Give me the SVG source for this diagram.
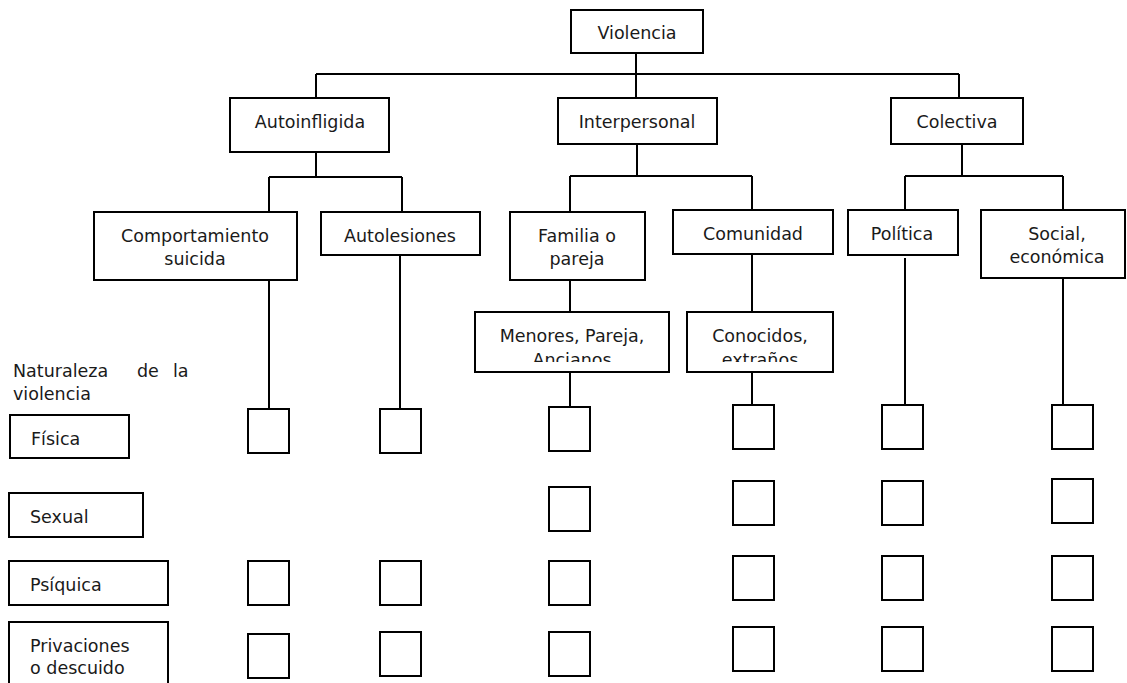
<svg xmlns="http://www.w3.org/2000/svg" width="1127" height="683" viewBox="0 0 1127 683">
<style>
.b{fill:#fff;stroke:#000;stroke-width:2}
.c{fill:none;stroke:#000;stroke-width:2}
text{font-family:"DejaVu Sans","Liberation Sans",sans-serif;font-size:17.5px;fill:#1a1a1a}
.m{text-anchor:middle}
</style>
<defs>
<clipPath id="clipMen"><rect x="475" y="312" width="194" height="50"/></clipPath>
<clipPath id="clipCon"><rect x="687" y="312" width="146" height="50"/></clipPath>
</defs>
<rect width="1127" height="683" fill="#fff"/>
<g id="connectors">
<path class="c" d="M636 53V98M316 74H959M316 74V98M959 74V98"/>
<path class="c" d="M316 152V177M269 177H402M269 177V212M402 177V212"/>
<path class="c" d="M637 144V176M570 176H752M570 176V212M752 176V210"/>
<path class="c" d="M962 144V176M905 176H1063M905 176V210M1063 176V210"/>
<path class="c" d="M269 280V409M400 255V409"/>
<path class="c" d="M570 280V312M570 372V407M752 254V312M752 372V405"/>
<path class="c" d="M905 258V405M1063 278V405"/>
</g>
<g id="n-violencia"><rect class="b" x="571" y="10" width="132" height="43"/><text class="m" x="637" y="39">Violencia</text></g>
<g id="n-autoinfligida"><rect class="b" x="230" y="98" width="159" height="54"/><text class="m" x="310" y="128">Autoinfligida</text></g>
<g id="n-interpersonal"><rect class="b" x="558" y="98" width="159" height="46"/><text class="m" x="637" y="128">Interpersonal</text></g>
<g id="n-colectiva"><rect class="b" x="891" y="98" width="132" height="46"/><text class="m" x="957" y="128">Colectiva</text></g>
<g id="n-comportamiento"><rect class="b" x="94" y="212" width="203" height="68"/><text class="m" x="195" y="242">Comportamiento</text><text class="m" x="195" y="265">suicida</text></g>
<g id="n-autolesiones"><rect class="b" x="321" y="212" width="159" height="43"/><text class="m" x="400" y="242">Autolesiones</text></g>
<g id="n-familia"><rect class="b" x="510" y="212" width="135" height="68"/><text class="m" x="577" y="242">Familia o</text><text class="m" x="577" y="265">pareja</text></g>
<g id="n-comunidad"><rect class="b" x="673" y="210" width="160" height="44"/><text class="m" x="753" y="240">Comunidad</text></g>
<g id="n-politica"><rect class="b" x="848" y="210" width="110" height="45"/><text class="m" x="902" y="240">Política</text></g>
<g id="n-social"><rect class="b" x="981" y="210" width="144" height="68"/><text class="m" x="1057" y="240">Social,</text><text class="m" x="1057" y="263">económica</text></g>
<g id="n-menores"><rect class="b" x="475" y="312" width="194" height="60"/><g clip-path="url(#clipMen)"><text class="m" x="572" y="342">Menores, Pareja,</text><text class="m" x="572" y="366">Ancianos</text></g></g>
<g id="n-conocidos"><rect class="b" x="687" y="312" width="146" height="60"/><g clip-path="url(#clipCon)"><text class="m" x="760" y="342">Conocidos,</text><text class="m" x="760" y="366">extraños</text></g></g>
<g id="n-naturaleza"><text x="13" y="377">Naturaleza</text><text x="137" y="377">de</text><text x="173" y="377">la</text><text x="13" y="400">violencia</text></g>
<g id="n-fisica"><rect class="b" x="10" y="415" width="119" height="43"/><text x="31" y="445">Física</text></g>
<g id="n-sexual"><rect class="b" x="9" y="493" width="134" height="44"/><text x="30" y="523">Sexual</text></g>
<g id="n-psiquica"><rect class="b" x="9" y="561" width="159" height="44"/><text x="30" y="591">Psíquica</text></g>
<g id="n-privaciones"><rect class="b" x="9" y="622" width="159" height="70"/><text x="30" y="652">Privaciones</text><text x="30" y="674">o descuido</text></g>
<g id="checkboxes">
<g id="col1"><rect class="b" x="248" y="409" width="41" height="44"/><rect class="b" x="248" y="561" width="41" height="44"/><rect class="b" x="248" y="634" width="41" height="44"/></g>
<g id="col2"><rect class="b" x="380" y="409" width="41" height="44"/><rect class="b" x="380" y="561" width="41" height="44"/><rect class="b" x="380" y="632" width="41" height="44"/></g>
<g id="col3"><rect class="b" x="549" y="407" width="41" height="44"/><rect class="b" x="549" y="487" width="41" height="44"/><rect class="b" x="549" y="561" width="41" height="44"/><rect class="b" x="549" y="632" width="41" height="44"/></g>
<g id="col4"><rect class="b" x="733" y="405" width="41" height="44"/><rect class="b" x="733" y="481" width="41" height="44"/><rect class="b" x="733" y="556" width="41" height="44"/><rect class="b" x="733" y="627" width="41" height="44"/></g>
<g id="col5"><rect class="b" x="882" y="405" width="41" height="44"/><rect class="b" x="882" y="481" width="41" height="44"/><rect class="b" x="882" y="556" width="41" height="44"/><rect class="b" x="882" y="627" width="41" height="44"/></g>
<g id="col6"><rect class="b" x="1052" y="405" width="41" height="44"/><rect class="b" x="1052" y="479" width="41" height="44"/><rect class="b" x="1052" y="556" width="41" height="44"/><rect class="b" x="1052" y="627" width="41" height="44"/></g>
</g>
</svg>
